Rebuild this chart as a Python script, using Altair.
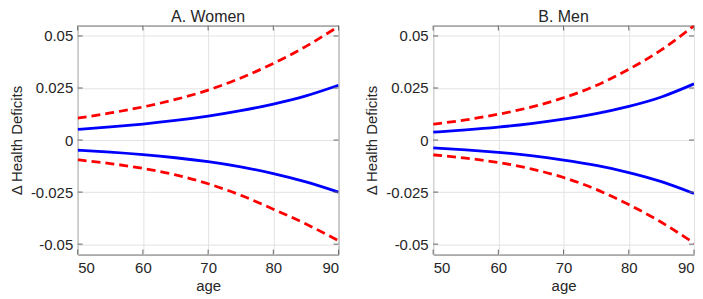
import altair as alt
import pandas as pd

# ---- data ----
ages = [50, 55, 60, 65, 70, 75, 80, 85, 90]

women_upper_ci = [0.0105, 0.0130, 0.0159, 0.0195, 0.0240, 0.0298, 0.0368, 0.0450, 0.0546]
women_upper_est = [0.0051, 0.0063, 0.0077, 0.0094, 0.0115, 0.0141, 0.0173, 0.0212, 0.0263]
women_lower_est = [-0.0049, -0.0058, -0.0070, -0.0085, -0.0104, -0.0129, -0.0161, -0.0201, -0.0250]
women_lower_ci = [-0.0095, -0.0113, -0.0136, -0.0167, -0.0210, -0.0265, -0.0332, -0.0403, -0.0484]

men_upper_ci = [0.0076, 0.0097, 0.0124, 0.0158, 0.0203, 0.0262, 0.0340, 0.0433, 0.0549]
men_upper_est = [0.0038, 0.0049, 0.0062, 0.0079, 0.0100, 0.0127, 0.0162, 0.0207, 0.0270]
men_lower_est = [-0.0038, -0.0047, -0.0059, -0.0075, -0.0096, -0.0122, -0.0156, -0.0200, -0.0257]
men_lower_ci = [-0.0071, -0.0087, -0.0108, -0.0138, -0.0180, -0.0237, -0.0310, -0.0395, -0.0495]

panels = ["A. Women", "B. Men"]
x_ticks = [50, 60, 70, 80, 90]
y_ticks = [-0.05, -0.025, 0, 0.025, 0.05]
y_title = "Δ Health Deficits"
x_title = "age"

series = {
    "A. Women": {
        ("upper", "ci"): women_upper_ci,
        ("upper", "est"): women_upper_est,
        ("lower", "est"): women_lower_est,
        ("lower", "ci"): women_lower_ci,
    },
    "B. Men": {
        ("upper", "ci"): men_upper_ci,
        ("upper", "est"): men_upper_est,
        ("lower", "est"): men_lower_est,
        ("lower", "ci"): men_lower_ci,
    },
}

rows = []
for p, sd in series.items():
    for (side, kind), vals in sd.items():
        for a, v in zip(ages, vals):
            rows.append({"panel": p, "side": side, "kind": kind,
                         "series": side + "_" + kind, "age": a, "value": v})
df = pd.DataFrame(rows)
xt_df = pd.DataFrame({"age": x_ticks})
yt_df = pd.DataFrame({"value": y_ticks})

W, H = 262, 230
FONT = "Liberation Sans"
TXT = "#262626"
FRAME = "#666666"

xs = alt.Scale(domain=[50, 90], nice=False, zero=False)
ys = alt.Scale(domain=[-0.055, 0.055], nice=False, zero=False)

x_axis = alt.Axis(values=x_ticks, title=x_title, grid=True,
                  labelPadding=6, titlePadding=3)
y_axis = alt.Axis(values=y_ticks, title=y_title, grid=True,
                  labelExpr="toString(datum.value)",
                  labelPadding=5, titlePadding=6)


def panel_chart(p):
    d = df[df.panel == p]
    x = alt.X("age:Q", scale=xs, axis=x_axis)
    y = alt.Y("value:Q", scale=ys, axis=y_axis)
    est = alt.Chart(d).transform_filter(alt.datum.kind == "est").mark_line(
        color="#0000FF", strokeWidth=2.8, interpolate="natural", clip=True
    ).encode(x=x, y=y, detail="series:N")
    ci = alt.Chart(d).transform_filter(alt.datum.kind == "ci").mark_line(
        color="#FF0000", strokeWidth=2.8, strokeDash=[9, 5],
        interpolate="natural", clip=True
    ).encode(x=x, y=y, detail="series:N")

    yl = alt.Chart(yt_df).mark_rule(color=FRAME, strokeWidth=1).encode(
        y=y, x=alt.value(0), x2=alt.value(5))
    yr = alt.Chart(yt_df).mark_rule(color=FRAME, strokeWidth=1).encode(
        y=y, x=alt.value(W - 5), x2=alt.value(W))
    xb = alt.Chart(xt_df).mark_rule(color=FRAME, strokeWidth=1).encode(
        x=x, y=alt.value(H - 5), y2=alt.value(H))
    xtp = alt.Chart(xt_df).mark_rule(color=FRAME, strokeWidth=1).encode(
        x=x, y=alt.value(0), y2=alt.value(5))

    return alt.layer(est, ci, yl, yr, xb, xtp).properties(
        width=W, height=H,
        title=alt.TitleParams(p, fontSize=16, offset=0, font=FONT,
                              color=TXT, fontWeight="normal"),
    )


chart = alt.hconcat(
    *[panel_chart(p) for p in panels], spacing=24, padding=0
).configure_view(
    stroke=FRAME, strokeWidth=1
).configure_axis(
    labelFont=FONT, titleFont=FONT, labelFontSize=15, titleFontSize=15,
    labelColor=TXT, titleColor=TXT, titleFontWeight="normal",
    gridColor="#E3E3E3", gridWidth=1, domain=False, ticks=False, tickSize=0,
)

chart.save("out.html", embed_options={"renderer": "svg", "actions": False})
